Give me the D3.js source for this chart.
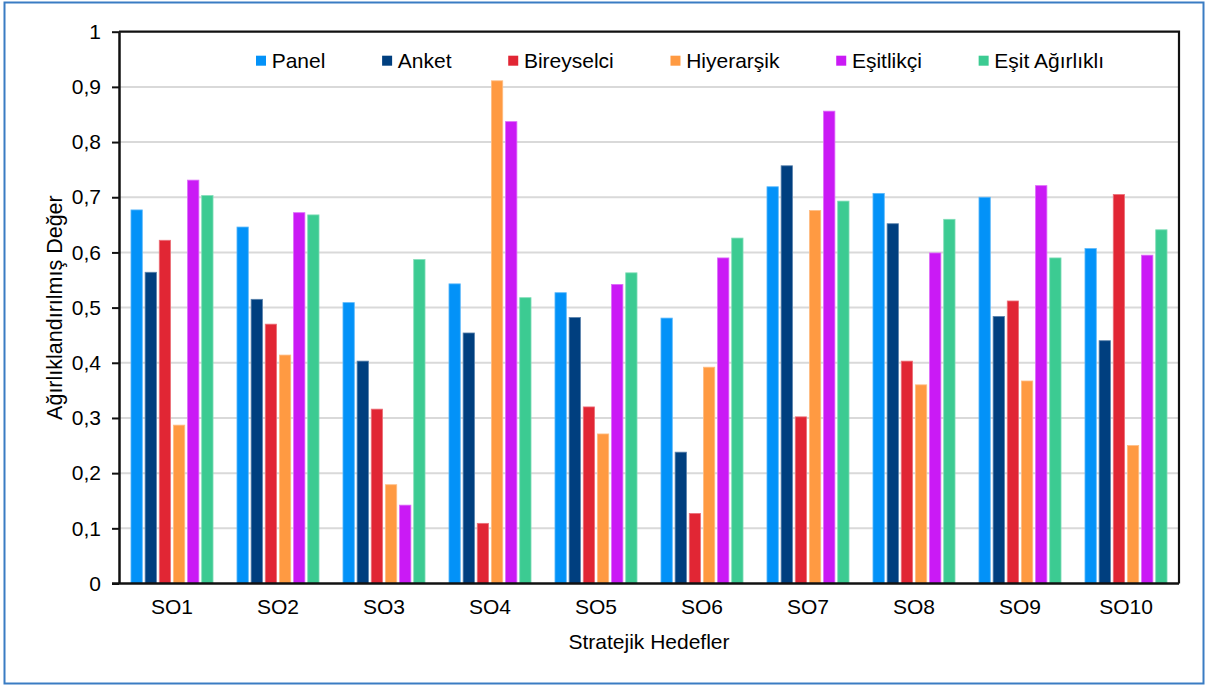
<!DOCTYPE html>
<html>
<head>
<meta charset="utf-8">
<script src="https://cdn.jsdelivr.net/npm/d3@7/dist/d3.min.js"></script>
<style>
  html, body { margin: 0; padding: 0; background: #fff; }
  svg { display: block; }
  text { font-family: "Liberation Sans", Arial, sans-serif; fill: #000; }
</style>
</head>
<body>
<svg id="chart" width="1208" height="688"></svg>
<script>
// Strategic objectives on the x axis
const categories = ["SO1", "SO2", "SO3", "SO4", "SO5", "SO6", "SO7", "SO8", "SO9", "SO10"];

// Weighting methods (series) and their colours
const seriesNames = ["Panel", "Anket", "Bireyselci", "Hiyerarşik", "Eşitlikçi", "Eşit Ağırlıklı"];
const seriesColors = ["#0392F8", "#003F7F", "#E12634", "#FF9A42", "#CA1AF5", "#3CCB92"];

// Weighted values per series, one entry per objective
const panel       = [0.677, 0.646, 0.509, 0.543, 0.527, 0.481, 0.719, 0.707, 0.700, 0.607];
const anket       = [0.564, 0.515, 0.403, 0.454, 0.482, 0.238, 0.757, 0.652, 0.484, 0.440];
const bireyselci  = [0.622, 0.470, 0.316, 0.109, 0.320, 0.127, 0.302, 0.403, 0.512, 0.705];
const hiyerarsik  = [0.287, 0.414, 0.179, 0.911, 0.271, 0.392, 0.676, 0.360, 0.367, 0.250];
const esitlikci   = [0.731, 0.672, 0.142, 0.837, 0.542, 0.590, 0.856, 0.599, 0.721, 0.595];
const esitAgirlik = [0.703, 0.668, 0.587, 0.518, 0.563, 0.626, 0.693, 0.660, 0.590, 0.641];

const seriesValues = [panel, anket, bireyselci, hiyerarsik, esitlikci, esitAgirlik];

// Y axis tick values and their Turkish-formatted labels
const yTicks = [0, 0.1, 0.2, 0.3, 0.4, 0.5, 0.6, 0.7, 0.8, 0.9, 1];
const yTickLabels = ["0", "0,1", "0,2", "0,3", "0,4", "0,5", "0,6", "0,7", "0,8", "0,9", "1"];

const xTitle = "Stratejik Hedefler";
const yTitle = "Ağırlıklandırılmış Değer";

const FONT = 21;
const svg = d3.select("#chart");

// Outer frame
svg.append("rect")
  .attr("x", 4.5).attr("y", 2.5)
  .attr("width", 1199).attr("height", 681)
  .attr("fill", "none")
  .attr("stroke", "#3A7CC3")
  .attr("stroke-width", 2);

const plot = { left: 119, right: 1179, top: 31.7, bottom: 583.5 };

const x0 = d3.scaleBand()
  .domain(categories)
  .range([plot.left, plot.right])
  .paddingInner(0.226)
  .paddingOuter(0.113);

const x1 = d3.scaleBand()
  .domain(seriesNames)
  .range([0, x0.bandwidth()])
  .paddingInner(0.2)
  .paddingOuter(0);

const y = d3.scaleLinear()
  .domain([0, 1])
  .range([plot.bottom, plot.top]);

// Gridlines
svg.append("g")
  .selectAll("line")
  .data(yTicks.filter(t => t > 0 && t < 1))
  .join("line")
  .attr("x1", plot.left).attr("x2", plot.right)
  .attr("y1", d => y(d)).attr("y2", d => y(d))
  .attr("stroke", "#D9D9D9")
  .attr("stroke-width", 2);

// Bars
const rows = [];
categories.forEach((c, i) => {
  seriesNames.forEach((s, j) => {
    rows.push({ cat: c, series: s, value: seriesValues[j][i], color: seriesColors[j] });
  });
});

svg.append("g")
  .selectAll("rect")
  .data(rows)
  .join("rect")
  .attr("x", d => x0(d.cat) + x1(d.series))
  .attr("y", d => y(d.value))
  .attr("width", x1.bandwidth())
  .attr("height", d => y(0) - y(d.value))
  .attr("fill", d => d.color)
  .attr("stroke", d => d3.interpolateRgb(d.color, "#ffffff")(0.35))
  .attr("stroke-width", 0.8);

// Plot frame (top and right)
svg.append("path")
  .attr("d", `M${plot.left},${plot.top}H${plot.right}V${plot.bottom}`)
  .attr("fill", "none")
  .attr("stroke", "#111")
  .attr("stroke-width", 2.2);

// Y axis
const yAxis = d3.axisLeft(y)
  .tickValues(yTicks)
  .tickFormat((d, i) => yTickLabels[i])
  .tickSize(7)
  .tickSizeOuter(0)
  .tickPadding(11);

const gy = svg.append("g")
  .attr("transform", `translate(${plot.left},0)`)
  .call(yAxis);
gy.select(".domain").attr("stroke", "#111").attr("stroke-width", 2.5);
gy.selectAll(".tick line").attr("stroke", "#111").attr("stroke-width", 2);
gy.selectAll(".tick text")
  .attr("font-size", FONT)
  .attr("fill", "#000")
  .style("font-family", "'Liberation Sans', Arial, sans-serif");

// X axis
const xAxis = d3.axisBottom(x0).tickSize(0).tickSizeOuter(0).tickPadding(16);
const gx = svg.append("g")
  .attr("transform", `translate(0,${plot.bottom})`)
  .call(xAxis);
gx.select(".domain")
  .attr("d", `M${plot.left - 7},0H${plot.right}`)
  .attr("stroke", "#111").attr("stroke-width", 2.5);
gx.selectAll(".tick text")
  .attr("font-size", FONT)
  .attr("fill", "#000")
  .style("font-family", "'Liberation Sans', Arial, sans-serif");

// Axis titles
svg.append("text")
  .attr("x", (plot.left + plot.right) / 2)
  .attr("y", 649)
  .attr("text-anchor", "middle")
  .attr("font-size", FONT)
  .text(xTitle);

svg.append("text")
  .attr("transform", `translate(62,${(plot.top + plot.bottom) / 2}) rotate(-90)`)
  .attr("text-anchor", "middle")
  .attr("font-size", 21.5)
  .text(yTitle);

// Legend, laid out left to right by text width
const legend = svg.append("g");
let lx = 256;
seriesNames.forEach((name, j) => {
  legend.append("rect")
    .attr("x", lx).attr("y", 55.7)
    .attr("width", 10).attr("height", 10)
    .attr("fill", seriesColors[j]);
  const t = legend.append("text")
    .attr("x", lx + 15.7)
    .attr("y", 67.5)
    .attr("font-size", FONT)
    .text(name);
  lx += 15.7 + t.node().getComputedTextLength() + 56.7;
});
</script>
</body>
</html>
